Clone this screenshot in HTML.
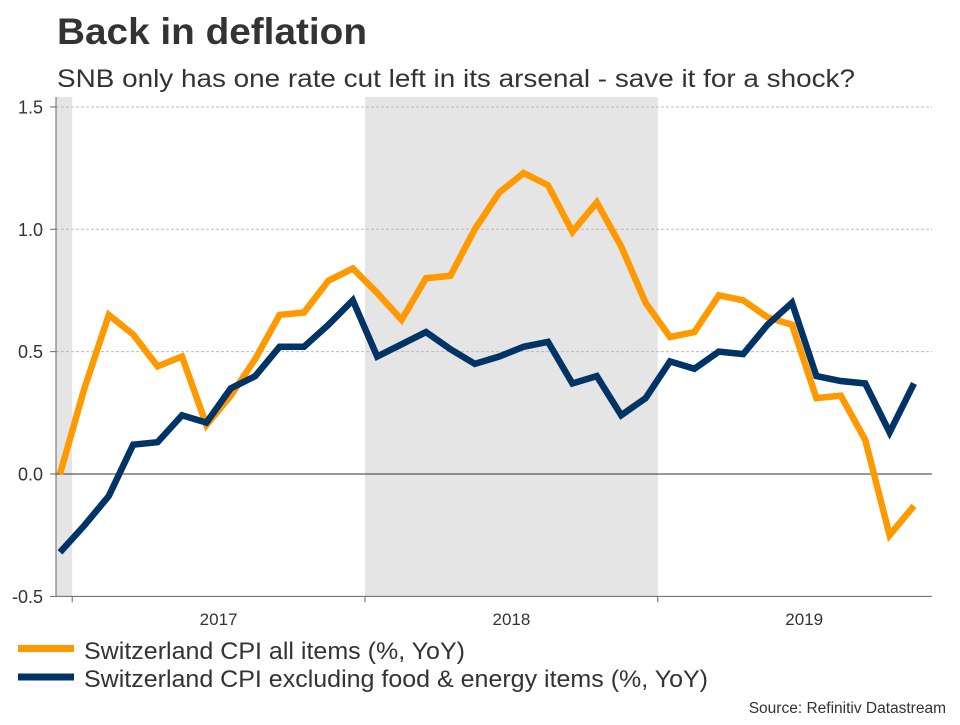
<!DOCTYPE html>
<html><head><meta charset="utf-8"><style>
body{margin:0;background:#fff;font-family:"Liberation Sans",sans-serif;}
svg text{font-family:"Liberation Sans",sans-serif;}
</style></head><body>
<svg id="c" width="960" height="720" xmlns="http://www.w3.org/2000/svg">
<text x="57" y="44" font-size="37" font-weight="bold" fill="#333" textLength="310" lengthAdjust="spacingAndGlyphs">Back in deflation</text>
<text x="57" y="87" font-size="25" fill="#333" textLength="798" lengthAdjust="spacingAndGlyphs">SNB only has one rate cut left in its arsenal - save it for a shock?</text>
<g id="plot"></g>
<line x1="18" y1="648.5" x2="74" y2="648.5" stroke="#ff9900" stroke-width="7"/>
<text x="84" y="659" font-size="24" fill="#333" textLength="381" lengthAdjust="spacingAndGlyphs">Switzerland CPI all items (%, YoY)</text>
<line x1="18" y1="677" x2="74" y2="677" stroke="#003366" stroke-width="7"/>
<text x="84" y="687" font-size="24" fill="#333" textLength="624" lengthAdjust="spacingAndGlyphs">Switzerland CPI excluding food &amp; energy items (%, YoY)</text>
<text x="946" y="713" font-size="15.5" fill="#333" text-anchor="end">Source: Refinitiv Datastream</text>
</svg>
<script>
const cpi=[0.0,0.35,0.65,0.57,0.44,0.48,0.2,0.32,0.47,0.65,0.66,0.79,0.84,0.74,0.63,0.80,0.81,1.0,1.15,1.23,1.18,0.99,1.11,0.93,0.70,0.56,0.58,0.73,0.71,0.64,0.61,0.31,0.32,0.14,-0.25,-0.13];
const core=[-0.32,-0.21,-0.09,0.12,0.13,0.24,0.21,0.35,0.40,0.52,0.52,0.61,0.71,0.48,0.53,0.58,0.51,0.45,0.48,0.52,0.54,0.37,0.40,0.24,0.31,0.46,0.43,0.50,0.49,0.61,0.70,0.40,0.38,0.37,0.17,0.37];
const yTicks=[-0.5,0.0,0.5,1.0,1.5];
const yTickLabels=["-0.5","0.0","0.5","1.0","1.5"];
const years=["2017","2018","2019"];
const yearStart=[0.5,12.5,24.5];
const ns="http://www.w3.org/2000/svg";
const g=document.getElementById('plot');
const X0=60,DX=24.4,L=56,R=932;
const x=i=>X0+i*DX;
const y=v=>474-v*244.7;
function mk(t,a){const e=document.createElementNS(ns,t);for(const k in a)e.setAttribute(k,a[k]);g.appendChild(e);return e;}
let s=mk('rect',{x:L,y:y(1.5)-10,width:x(yearStart[0])-L,height:y(-0.5)-y(1.5)+10,fill:'#e5e5e5'});


s=mk('rect',{x:x(yearStart[1]),y:y(1.5)-10,width:x(yearStart[2])-x(yearStart[1]),height:y(-0.5)-y(1.5)+10,fill:'#e5e5e5'});


yTicks.forEach((v,i)=>{
 if(v!==-0.5){
  const gl=mk('line',{x1:L,x2:R,y1:y(v),y2:y(v),stroke:v===0?'#333':'#bbb','stroke-width':1,'stroke-dasharray':v===0?'':'3,2'});
  
  
 }
 const tk=mk('line',{x1:L-6,x2:L,y1:y(v),y2:y(v),stroke:'#666'});
 
 
 const t=mk('text',{x:43,y:y(v)+6.5,'font-size':18,fill:'#333','text-anchor':'end'});
 t.textContent=yTickLabels[i];
 
 
});
let ax=mk('line',{x1:L,x2:L,y1:97,y2:y(-0.5),stroke:'#666'});


ax=mk('line',{x1:L,x2:R,y1:y(-0.5),y2:y(-0.5),stroke:'#666'});


years.forEach((yr,i)=>{
 const tk=mk('line',{x1:x(yearStart[i]),x2:x(yearStart[i]),y1:y(-0.5),y2:y(-0.5)+6,stroke:'#666'});
 
 
 const t=mk('text',{x:x(yearStart[i]+6),y:625,'font-size':17,fill:'#333','text-anchor':'middle'});
 t.textContent=yr;
 
 
});
function line(d,c,n){
 const p=mk('polyline',{points:d.map((v,i)=>x(i)+','+y(v)).join(' '),fill:'none',stroke:c,'stroke-width':6.5,'stroke-linejoin':'miter'});
 
 
}
line(cpi,'#ff9900','cpi-line');
line(core,'#003366','core-cpi-line');
</script>
</body></html>
